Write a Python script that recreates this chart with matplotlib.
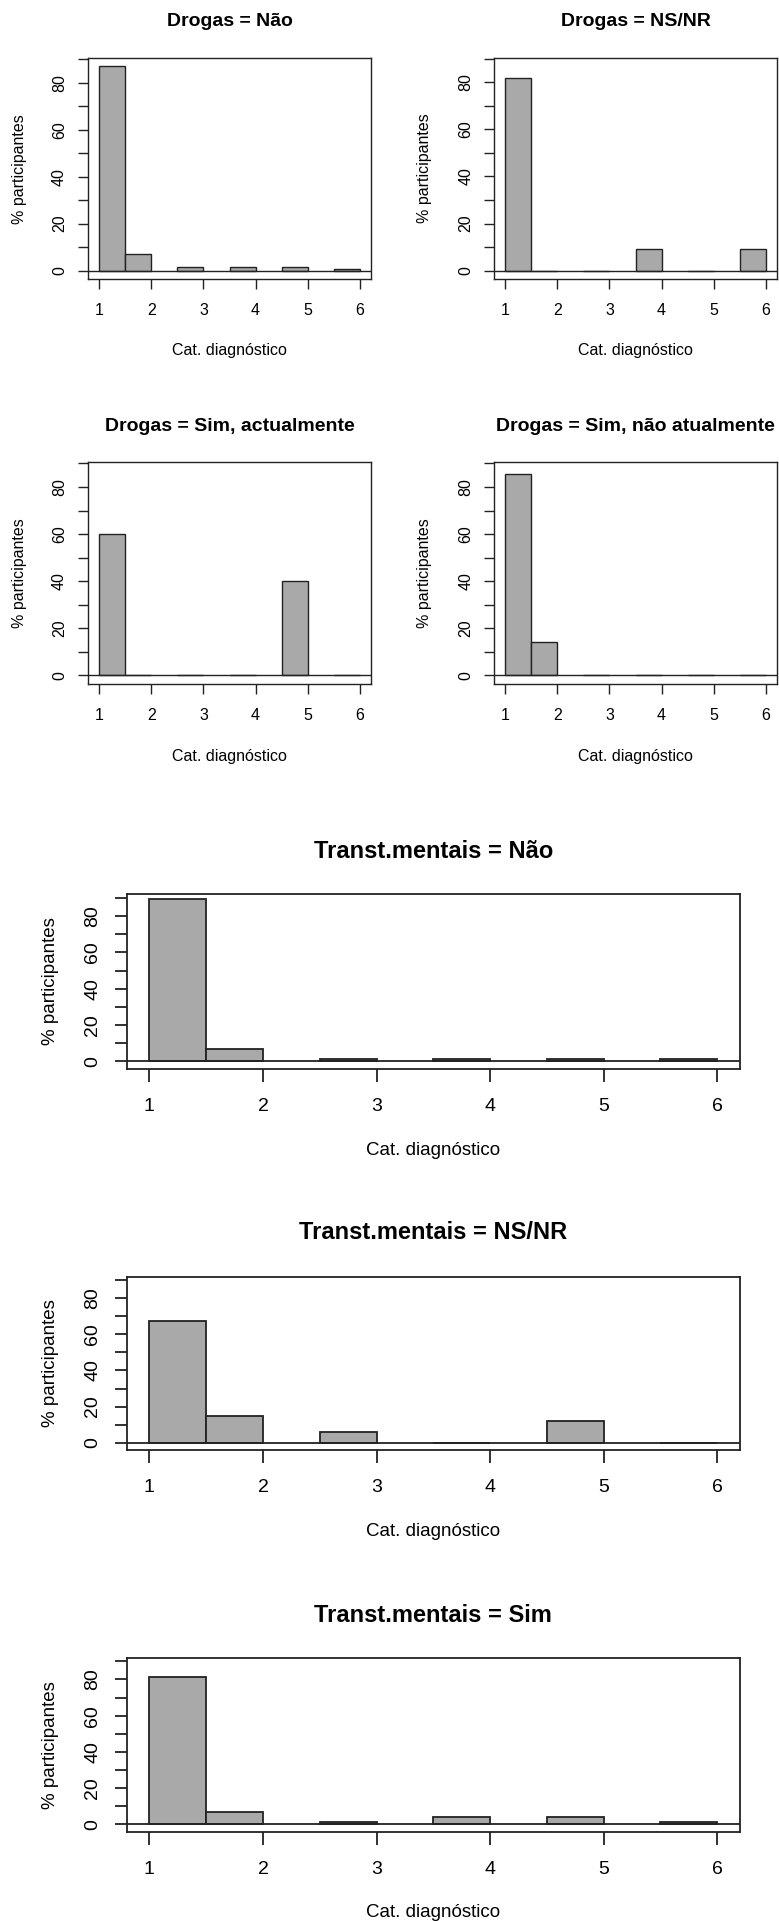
import matplotlib
matplotlib.use('Agg')
import matplotlib.pyplot as plt

# figure size in pixels (dpi 100)
W, H = 779, 1921

plt.rcParams['font.family'] = ['Liberation Sans', 'DejaVu Sans']

# histogram bins used for the categories 1..6
cat_ticks = [1, 2, 3, 4, 5, 6]
bin_left = [1.0, 1.5, 2.5, 3.5, 4.5, 5.5]
y_ticks = [0, 10, 20, 30, 40, 50, 60, 70, 80, 90]
y_labels = ['0', '', '20', '', '40', '', '60', '', '80', '']

# % participantes per category
drogas_nao = [87.0, 7.0, 1.6, 1.6, 1.6, 0.6]
drogas_nsnr = [81.8, 0, 0, 9.1, 0, 9.1]
drogas_sim_act = [60.0, 0, 0, 0, 40.0, 0]
drogas_sim_nao_act = [85.7, 14.3, 0, 0, 0, 0]
transt_nao = [89.2, 6.6, 1.0, 1.0, 1.0, 1.0]
transt_nsnr = [67.6, 14.7, 5.9, 0, 11.8, 0]
transt_sim = [81.5, 7.0, 1.2, 4.0, 4.0, 1.2]

fig = plt.figure(figsize=(W / 100, H / 100), dpi=100)

FILL = '#a9a9a9'
EDGE = '#222222'

small = dict(xlim=(0.79, 6.21), ylim=(-3.7, 90.5), lw=1.0, tl=7.2,
             xpad=18.8, ypad=13.3, fs_title=14, fs_lab=11.5, fs_tick=11.5)
wide = dict(xlim=(0.8, 6.2), ylim=(-4.1, 92.0), lw=1.3, tl=9.0,
            xpad=21.6, ypad=15.4, fs_title=17, fs_lab=13.5, fs_tick=14)


def draw(box, vals, title, st, title_base, xlab_base, ylab_x):
    x0, y0, x1, y1 = box
    ax = fig.add_axes([x0 / W, 1 - y1 / H, (x1 - x0) / W, (y1 - y0) / H])
    ax.bar(bin_left, vals, width=0.5, align='edge', color=FILL,
           edgecolor=EDGE, linewidth=st['lw'], zorder=2)
    ax.axhline(0, color=EDGE, lw=st['lw'], zorder=3)
    ax.set_xlim(*st['xlim'])
    ax.set_ylim(*st['ylim'])
    ax.set_xticks(cat_ticks, [str(c) for c in cat_ticks], va='baseline',
                  fontsize=st['fs_tick'])
    ax.set_yticks(y_ticks, y_labels, rotation=90, va='center', ha='center',
                  fontsize=st['fs_tick'])
    ax.tick_params(axis='x', length=st['tl'], width=st['lw'], pad=st['xpad'],
                   color=EDGE)
    ax.tick_params(axis='y', length=st['tl'], width=st['lw'], pad=st['ypad'],
                   color=EDGE)
    for s in ax.spines.values():
        s.set_linewidth(st['lw'])
        s.set_color(EDGE)
    cx = (x0 + x1) / 2 / W
    fig.text(cx, 1 - title_base / H, title, ha='center', va='baseline',
             fontsize=st['fs_title'], fontweight='bold')
    fig.text(cx, 1 - xlab_base / H, 'Cat. diagnóstico', ha='center',
             va='baseline', fontsize=st['fs_lab'])
    fig.text(ylab_x / W, 1 - (y0 + y1) / 2 / H, '% participantes',
             rotation=90, ha='center', va='center', fontsize=st['fs_lab'])


draw((88, 58, 371, 279.3), drogas_nao, 'Drogas = Não', small, 26, 355, 19.5)
draw((494.3, 57.7, 776.7, 279.3), drogas_nsnr, 'Drogas = NS/NR', small, 26, 355, 425)
draw((88, 462.3, 371, 684), drogas_sim_act, 'Drogas = Sim, actualmente',
     small, 430.7, 761, 19.5)
draw((494.3, 462.3, 776.7, 684), drogas_sim_nao_act, 'Drogas = Sim, não atualmente',
     small, 430.7, 761, 425)

draw((126.7, 894.3, 740, 1068.7), transt_nao, 'Transt.mentais = Não',
     wide, 858.3, 1155, 50.5)
draw((126.7, 1276.7, 740, 1450), transt_nsnr, 'Transt.mentais = NS/NR',
     wide, 1239, 1536, 50.5)
draw((126.7, 1657.7, 740, 1831.7), transt_sim, 'Transt.mentais = Sim',
     wide, 1621.7, 1916.7, 50.5)

fig.savefig('out.png', dpi=100)
